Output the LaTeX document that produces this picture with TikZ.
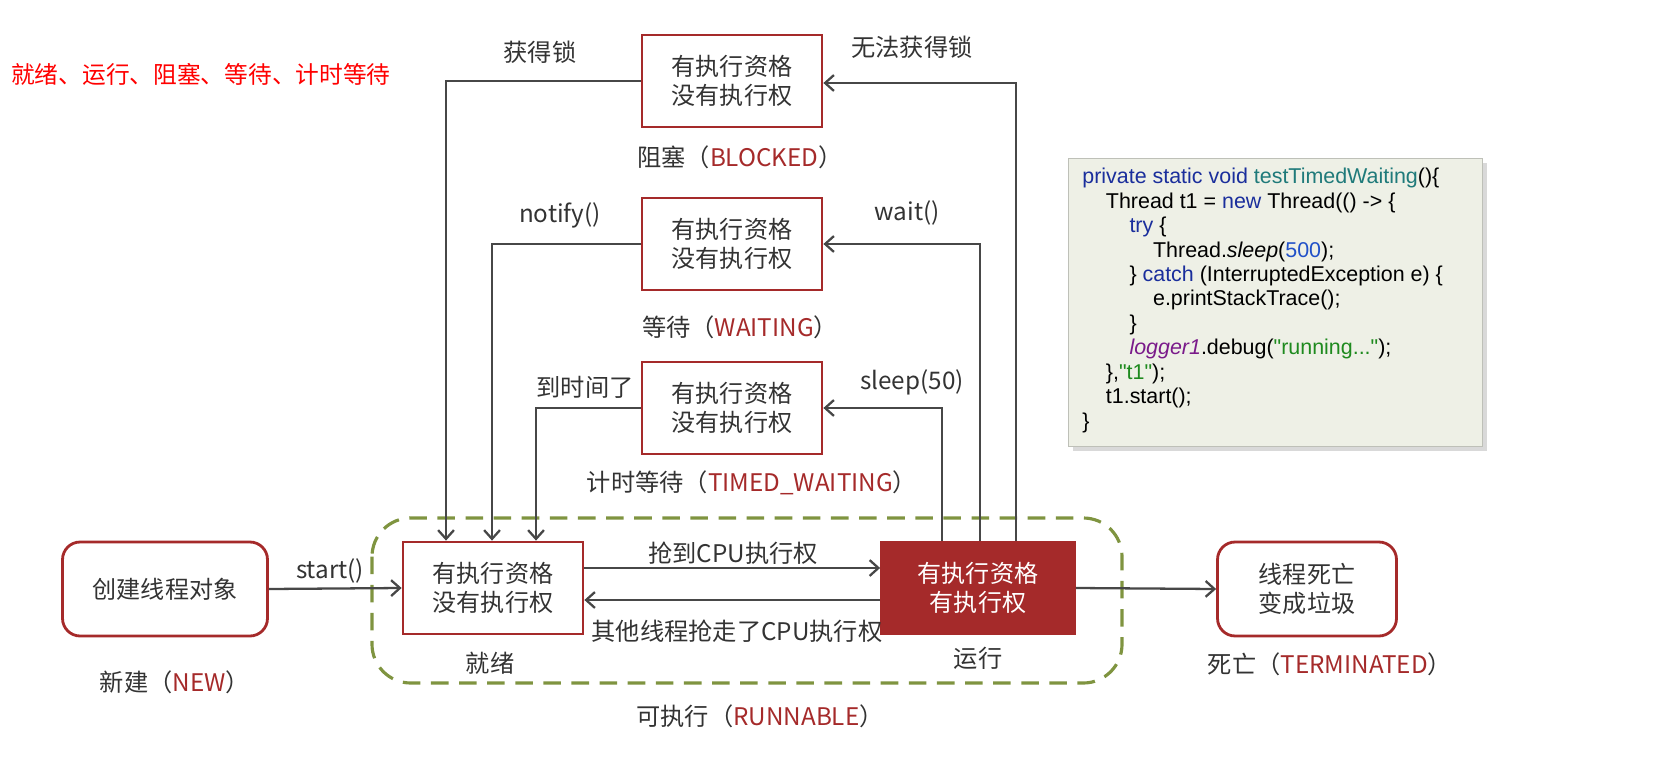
\documentclass[tikz,border=0pt]{standalone}
\usepackage{fontspec}
\setmainfont{Noto Sans CJK SC}
\newfontfamily\codef{Liberation Sans}
\usetikzlibrary{arrows.meta,shadows}
\definecolor{dred}{HTML}{A52A2A}
\definecolor{txt}{HTML}{333333}
\definecolor{olive}{HTML}{7F9440}
\definecolor{cbg}{HTML}{EEF0E6}
\definecolor{kw}{HTML}{1A2E9C}
\definecolor{fn}{HTML}{1F7A7A}
\definecolor{num}{HTML}{2050C8}
\definecolor{str}{HTML}{1E8A1E}
\definecolor{purp}{HTML}{7A1A8A}
\begin{document}
\begin{tikzpicture}[x=0.02cm,y=-0.02cm,
  st/.style={draw=dred,line width=1.6pt,minimum width=3.6cm,minimum height=1.84cm,align=center,font=\fontsize{13.7}{16.5}\selectfont,text=txt,inner sep=0pt},
  rst/.style={st,rounded corners=10pt,minimum width=4.1cm,minimum height=1.88cm},
  lab/.style={font=\fontsize{13.8}{16}\selectfont,text=txt,inner sep=1pt},
  ar/.style={draw=txt!90,line width=1.3pt,-{Straight Barb[length=5pt,width=9pt]}}]
\useasboundingbox (0,0) rectangle (1656,784);
\node[text=red,font=\fontsize{13.5}{16}\selectfont,anchor=west] (legend) at (5,74) {就绪、运行、阻塞、等待、计时等待};
\draw[olive,dashed,line width=1.8pt,dash pattern=on 10pt off 6pt,rounded corners=22pt] (372,518) rectangle (1122,683);
\node[st] (blk) at (732,81) {有执行资格\\没有执行权};
\node[st] (wai) at (732,244) {有执行资格\\没有执行权};
\node[st] (tim) at (732,408) {有执行资格\\没有执行权};
\node[st] (rdy) at (493,588) {有执行资格\\没有执行权};
\node[st,fill=dred,text=white,minimum width=3.86cm] (run) at (978,588) {有执行资格\\有执行权};
\node[rst] (new) at (165,589) {创建线程对象};
\node[rst,minimum width=3.58cm] (dead) at (1307,589) {线程死亡\\变成垃圾};
\coordinate (b1) at (1016,83); \coordinate (b2) at (446,81);
\coordinate (w1) at (980,244); \coordinate (w2) at (492,244);
\coordinate (t1) at (942,408); \coordinate (t2) at (536,408);
\draw[ar] (run.north -| b1) |- (blk.east |- b1);
\draw[ar] (blk.west) -| (rdy.north -| b2);
\draw[ar] (run.north -| w1) |- (wai.east);
\draw[ar] (wai.west) -| (rdy.north -| w2);
\draw[ar] (run.north -| t1) |- (tim.east);
\draw[ar] (tim.west) -| (rdy.north -| t2);
\draw[ar] ([yshift=0.4cm]rdy.east) -- ([yshift=0.4cm]run.west);
\draw[ar] ([yshift=-0.24cm]run.west) -- ([yshift=-0.24cm]rdy.east);
\draw[ar] (new.east) -- (rdy.west);
\draw[ar] (run.east) -- (dead.west);
\node[lab] (l1) at (540,52) {获得锁};
\node[lab] (l2) at (912,47) {无法获得锁};
\node[lab] (l3) at (740,157) {阻塞（\textcolor{dred}{BLOCKED}）};
\node[lab] (l4) at (560,215) {notify()};
\node[lab] (l5) at (907,213) {wait()};
\node[lab] (l6) at (740,327) {等待（\textcolor{dred}{WAITING}）};
\node[lab] (l7) at (585,387) {到时间了};
\node[lab] (l8) at (912,382) {sleep(50)};
\node[lab] (l9) at (752,483) {计时等待（\textcolor{dred}{TIMED\_WAITING}）};
\node[lab] (l10) at (733,553) {抢到CPU执行权};
\node[lab] (l11) at (737,631) {其他线程抢走了CPU执行权};
\node[lab] (l12) at (330,571) {start()};
\node[lab] (l13) at (175,682) {新建（\textcolor{dred}{NEW}）};
\node[lab] (l14) at (490,663) {就绪};
\node[lab] (l15) at (978,658) {运行};
\node[lab] (l16) at (760,716) {可执行（\textcolor{dred}{RUNNABLE}）};
\node[lab] (l17) at (1330,664) {死亡（\textcolor{dred}{TERMINATED}）};
\node[fill=cbg,draw=cbg!80!black,drop shadow={opacity=0.3},minimum width=8.28cm,minimum height=5.76cm,anchor=north west] (code) at (1068,158) {};
\node[anchor=north west,align=left,font=\codef\fontsize{12.2}{13.9}\selectfont,inner sep=0pt] (codetxt) at (1082,168) {%
\textcolor{kw}{private static void} \textcolor{fn}{testTimedWaiting}()\{\\
\hspace*{1.1em}Thread t1 = \textcolor{kw}{new} Thread(() -> \{\\
\hspace*{2.2em}\textcolor{kw}{try} \{\\
\hspace*{3.3em}Thread.\textit{sleep}(\textcolor{num}{500});\\
\hspace*{2.2em}\} \textcolor{kw}{catch} (InterruptedException e) \{\\
\hspace*{3.3em}e.printStackTrace();\\
\hspace*{2.2em}\}\\
\hspace*{2.2em}\textcolor{purp}{\textit{logger1}}.debug(\textcolor{str}{"running..."});\\
\hspace*{1.1em}\},\textcolor{str}{"t1"});\\
\hspace*{1.1em}t1.start();\\
\}};
\end{tikzpicture}
\end{document}
